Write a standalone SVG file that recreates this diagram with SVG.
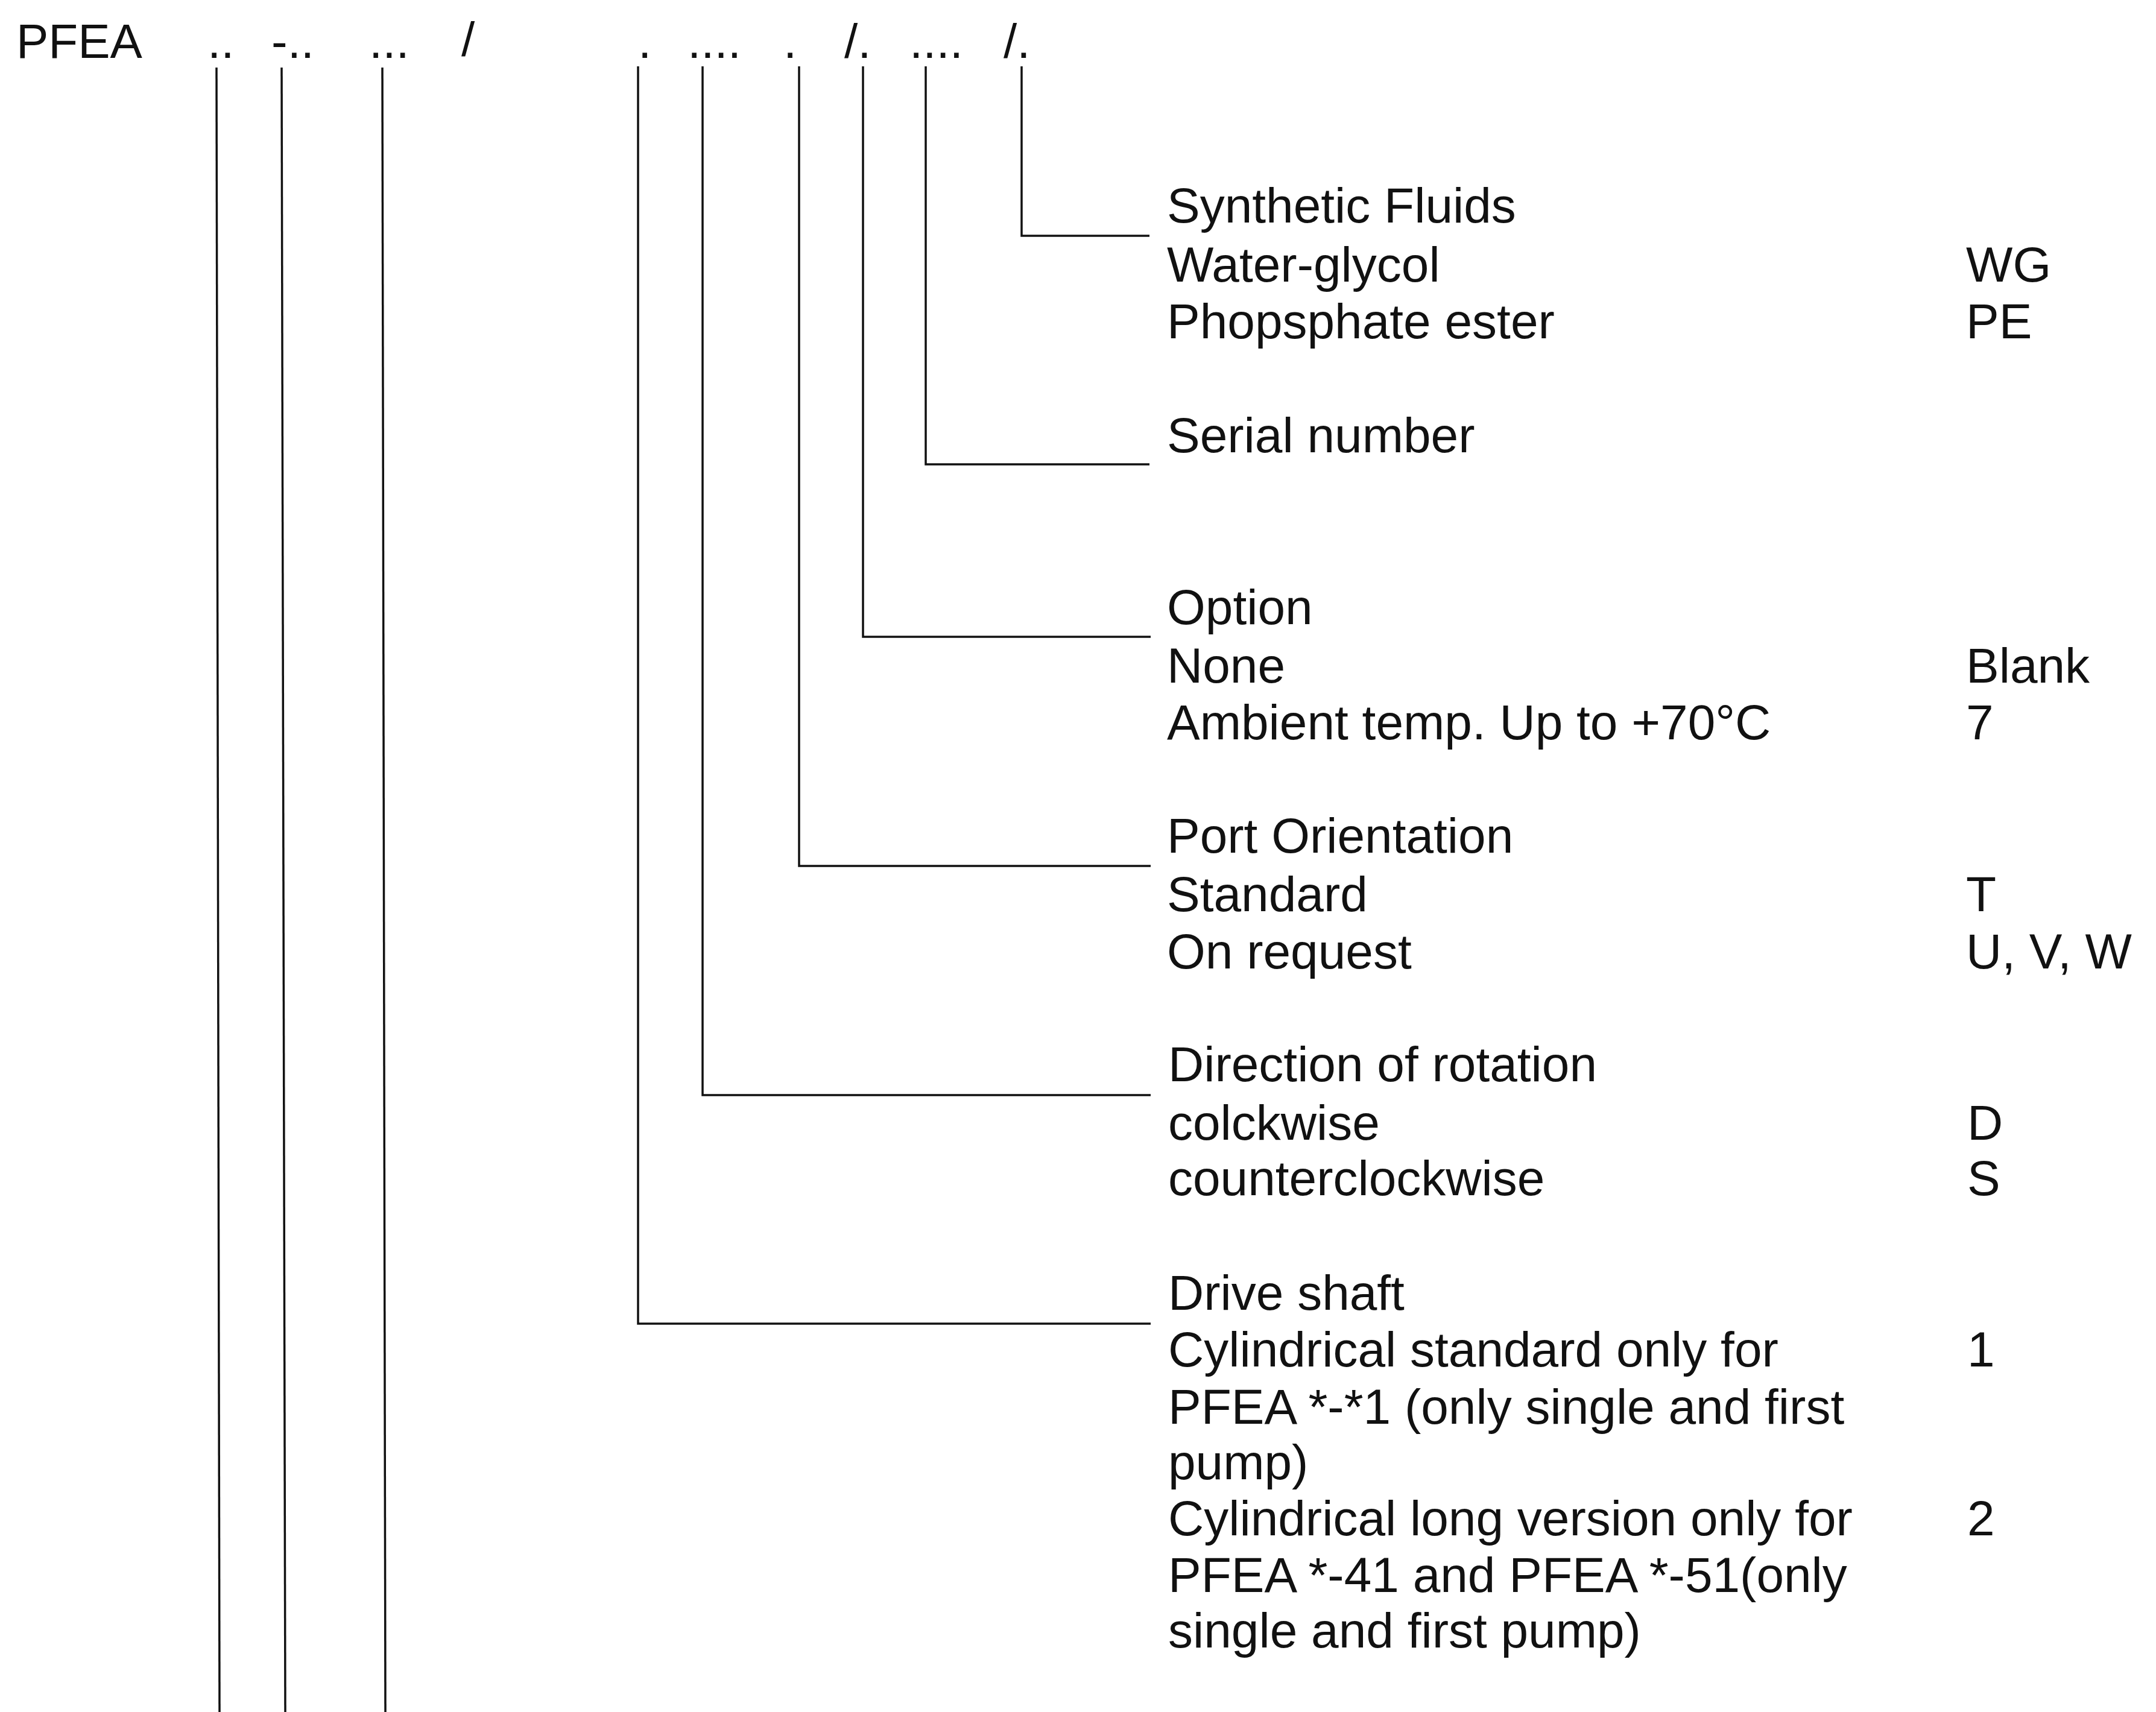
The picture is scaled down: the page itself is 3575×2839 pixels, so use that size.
<svg xmlns="http://www.w3.org/2000/svg" width="3575" height="2839" viewBox="0 0 3575 2839">
<style>
text{font-family:"Liberation Sans",Arial,sans-serif;font-size:82px;fill:#111}
#code text{font-size:80px}
.c line,.c path{stroke:#111;stroke-width:3.5;fill:none}
</style>
<rect width="3575" height="2839" fill="#fff"/>
<g id="code">
<text x="27" y="96">PFEA</text>
<text x="344" y="96">..</text>
<text x="450" y="96">-..</text>
<text x="612" y="96">...</text>
<text x="765" y="93">/</text>
<text x="1058" y="96">.</text>
<text x="1140" y="96">....</text>
<text x="1299" y="96">.</text>
<text x="1400" y="96">/.</text>
<text x="1508" y="96">....</text>
<text x="1664" y="96">/.</text>
</g>
<g class="c" id="connectors">
<line x1="359" y1="112" x2="364" y2="2839"/>
<line x1="467" y1="112" x2="473" y2="2839"/>
<line x1="634" y1="112" x2="639" y2="2839"/>
<path d="M1058 110 V2195 H1908"/>
<path d="M1165 110 V1816 H1908"/>
<path d="M1325 110 V1436 H1908"/>
<path d="M1431 110 V1056 H1908"/>
<path d="M1535 110 V770 H1906"/>
<path d="M1694 110 V391 H1906"/>
</g>
<g id="n-fluids">
<text x="1935" y="369">Synthetic Fluids</text>
<text x="1935" y="467">Water-glycol</text>
<text x="1935" y="561">Phopsphate ester</text>
<text x="3260" y="467">WG</text>
<text x="3260" y="561">PE</text>
</g>
<g id="n-serial">
<text x="1935" y="750">Serial number</text>
</g>
<g id="n-option">
<text x="1935" y="1035">Option</text>
<text x="1935" y="1132">None</text>
<text x="1935" y="1226">Ambient temp. Up to +70°C</text>
<text x="3260" y="1132">Blank</text>
<text x="3260" y="1226">7</text>
</g>
<g id="n-port">
<text x="1935" y="1414">Port Orientation</text>
<text x="1935" y="1511">Standard</text>
<text x="1935" y="1606">On request</text>
<text x="3260" y="1511">T</text>
<text x="3260" y="1606">U, V, W</text>
</g>
<g id="n-direction">
<text x="1937" y="1793">Direction of rotation</text>
<text x="1937" y="1890">colckwise</text>
<text x="1937" y="1982">counterclockwise</text>
<text x="3262" y="1890">D</text>
<text x="3262" y="1982">S</text>
</g>
<g id="n-drive">
<text x="1937" y="2172">Drive shaft</text>
<text x="1937" y="2266">Cylindrical standard only for</text>
<text x="1937" y="2361">PFEA *-*1 (only single and first</text>
<text x="1937" y="2453">pump)</text>
<text x="1937" y="2546">Cylindrical long version only for</text>
<text x="1937" y="2640">PFEA *-41 and PFEA *-51(only</text>
<text x="1937" y="2732">single and first pump)</text>
<text x="3262" y="2266">1</text>
<text x="3262" y="2546">2</text>
</g>
</svg>
